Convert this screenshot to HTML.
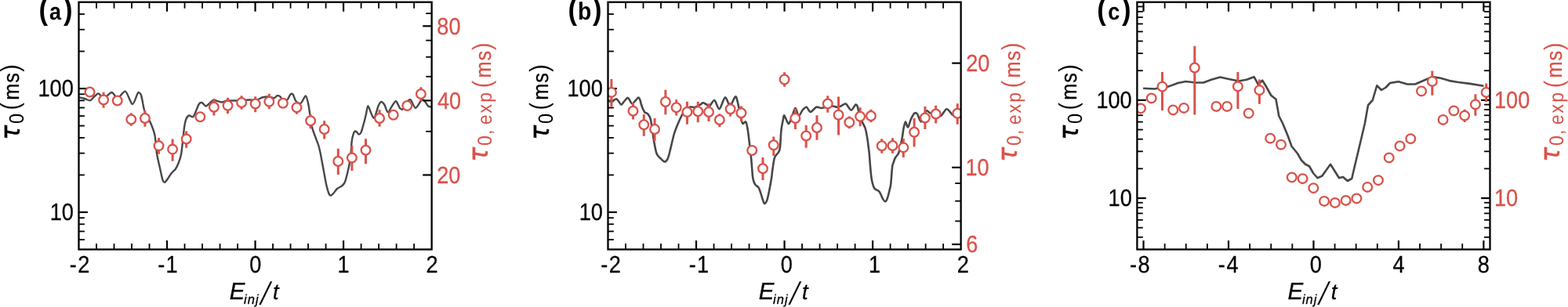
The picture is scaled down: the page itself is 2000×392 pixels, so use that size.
<!DOCTYPE html>
<html lang="en"><head><meta charset="utf-8"><title>Figure</title>
<style>html,body{margin:0;padding:0;background:#fff}body{width:2000px;height:392px;overflow:hidden}svg{display:block;font-family:'Liberation Sans', sans-serif;text-rendering:geometricPrecision}text{fill:currentColor}.t{stroke:currentColor;stroke-width:0.3px;stroke-linejoin:round}.w{stroke:#fff;stroke-width:0.2px}.u{stroke:currentColor;stroke-width:0.45px}</style>
</head><body>
<svg width="2000" height="392" viewBox="0 0 2000 392">
<g id="panel-a">
<clipPath id="clip-a"><rect x="100.5" y="2.7" width="450.15" height="315.8"/></clipPath>
<g stroke="#000">
<line x1="123.01" y1="318.5" x2="123.01" y2="311.1" stroke-width="1.8"/>
<line x1="123.01" y1="2.7" x2="123.01" y2="10.7" stroke-width="1.8"/>
<line x1="145.51" y1="318.5" x2="145.51" y2="311.1" stroke-width="1.8"/>
<line x1="145.51" y1="2.7" x2="145.51" y2="10.7" stroke-width="1.8"/>
<line x1="168.02" y1="318.5" x2="168.02" y2="311.1" stroke-width="1.8"/>
<line x1="168.02" y1="2.7" x2="168.02" y2="10.7" stroke-width="1.8"/>
<line x1="190.53" y1="318.5" x2="190.53" y2="311.1" stroke-width="1.8"/>
<line x1="190.53" y1="2.7" x2="190.53" y2="10.7" stroke-width="1.8"/>
<line x1="213.04" y1="318.5" x2="213.04" y2="307.1" stroke-width="2.2"/>
<line x1="213.04" y1="2.7" x2="213.04" y2="14.7" stroke-width="2.2"/>
<line x1="235.54" y1="318.5" x2="235.54" y2="311.1" stroke-width="1.8"/>
<line x1="235.54" y1="2.7" x2="235.54" y2="10.7" stroke-width="1.8"/>
<line x1="258.05" y1="318.5" x2="258.05" y2="311.1" stroke-width="1.8"/>
<line x1="258.05" y1="2.7" x2="258.05" y2="10.7" stroke-width="1.8"/>
<line x1="280.56" y1="318.5" x2="280.56" y2="311.1" stroke-width="1.8"/>
<line x1="280.56" y1="2.7" x2="280.56" y2="10.7" stroke-width="1.8"/>
<line x1="303.07" y1="318.5" x2="303.07" y2="311.1" stroke-width="1.8"/>
<line x1="303.07" y1="2.7" x2="303.07" y2="10.7" stroke-width="1.8"/>
<line x1="325.57" y1="318.5" x2="325.57" y2="307.1" stroke-width="2.2"/>
<line x1="325.57" y1="2.7" x2="325.57" y2="14.7" stroke-width="2.2"/>
<line x1="348.08" y1="318.5" x2="348.08" y2="311.1" stroke-width="1.8"/>
<line x1="348.08" y1="2.7" x2="348.08" y2="10.7" stroke-width="1.8"/>
<line x1="370.59" y1="318.5" x2="370.59" y2="311.1" stroke-width="1.8"/>
<line x1="370.59" y1="2.7" x2="370.59" y2="10.7" stroke-width="1.8"/>
<line x1="393.1" y1="318.5" x2="393.1" y2="311.1" stroke-width="1.8"/>
<line x1="393.1" y1="2.7" x2="393.1" y2="10.7" stroke-width="1.8"/>
<line x1="415.6" y1="318.5" x2="415.6" y2="311.1" stroke-width="1.8"/>
<line x1="415.6" y1="2.7" x2="415.6" y2="10.7" stroke-width="1.8"/>
<line x1="438.11" y1="318.5" x2="438.11" y2="307.1" stroke-width="2.2"/>
<line x1="438.11" y1="2.7" x2="438.11" y2="14.7" stroke-width="2.2"/>
<line x1="460.62" y1="318.5" x2="460.62" y2="311.1" stroke-width="1.8"/>
<line x1="460.62" y1="2.7" x2="460.62" y2="10.7" stroke-width="1.8"/>
<line x1="483.13" y1="318.5" x2="483.13" y2="311.1" stroke-width="1.8"/>
<line x1="483.13" y1="2.7" x2="483.13" y2="10.7" stroke-width="1.8"/>
<line x1="505.63" y1="318.5" x2="505.63" y2="311.1" stroke-width="1.8"/>
<line x1="505.63" y1="2.7" x2="505.63" y2="10.7" stroke-width="1.8"/>
<line x1="528.14" y1="318.5" x2="528.14" y2="311.1" stroke-width="1.8"/>
<line x1="528.14" y1="2.7" x2="528.14" y2="10.7" stroke-width="1.8"/>
<line x1="100.5" y1="306" x2="107.9" y2="306" stroke-width="1.8"/>
<line x1="100.5" y1="295.43" x2="107.9" y2="295.43" stroke-width="1.8"/>
<line x1="100.5" y1="286.27" x2="107.9" y2="286.27" stroke-width="1.8"/>
<line x1="100.5" y1="278.19" x2="107.9" y2="278.19" stroke-width="1.8"/>
<line x1="100.5" y1="270.97" x2="111.9" y2="270.97" stroke-width="2.2"/>
<line x1="100.5" y1="223.43" x2="107.9" y2="223.43" stroke-width="1.8"/>
<line x1="100.5" y1="195.63" x2="107.9" y2="195.63" stroke-width="1.8"/>
<line x1="100.5" y1="175.9" x2="107.9" y2="175.9" stroke-width="1.8"/>
<line x1="100.5" y1="160.6" x2="107.9" y2="160.6" stroke-width="1.8"/>
<line x1="100.5" y1="148.1" x2="107.9" y2="148.1" stroke-width="1.8"/>
<line x1="100.5" y1="137.53" x2="107.9" y2="137.53" stroke-width="1.8"/>
<line x1="100.5" y1="128.37" x2="107.9" y2="128.37" stroke-width="1.8"/>
<line x1="100.5" y1="120.29" x2="107.9" y2="120.29" stroke-width="1.8"/>
<line x1="100.5" y1="113.07" x2="111.9" y2="113.07" stroke-width="2.2"/>
<line x1="100.5" y1="65.53" x2="107.9" y2="65.53" stroke-width="1.8"/>
<line x1="100.5" y1="37.73" x2="107.9" y2="37.73" stroke-width="1.8"/>
<line x1="100.5" y1="18" x2="107.9" y2="18" stroke-width="1.8"/>
</g>
<g clip-path="url(#clip-a)">
<path d="M101,124.3C101.98,124.54 106.04,125.44 108,126C109.96,126.56 113.32,128.65 115,128.3C116.68,127.95 118.67,124.7 120,123.5C121.33,122.3 123.59,120.2 124.5,119.7C125.41,119.2 125.38,119.09 126.5,119.9C127.62,120.71 130.26,125.77 132.5,125.5C134.74,125.23 140.05,118 142.5,118C144.95,118 147.55,125.67 150,125.5C152.45,125.33 157.38,115.7 160,116.75C162.62,117.8 166.65,132.47 168.75,133C170.85,133.53 173.91,122.61 175,120.5C176.09,118.39 176.01,118.11 176.5,117.9C176.99,117.69 178.01,118.5 178.5,119C178.99,119.5 179.58,120.24 180,121.5C180.42,122.76 181.08,125.97 181.5,128C181.92,130.03 182.51,133.83 183,136C183.49,138.17 183.67,140.42 185,143.5C186.33,146.58 190.75,153.87 192.5,158C194.25,162.13 196.45,167.68 197.5,173C198.55,178.32 199.12,190.33 200,196C200.88,201.67 202.7,208.78 203.75,213.5C204.8,218.22 206.62,227.06 207.5,229.75C208.38,232.44 209.12,232.93 210,232.75C210.88,232.57 212.53,230.15 213.75,228.5C214.97,226.85 217.35,222.75 218.75,221C220.15,219.25 222.53,217.75 223.75,216C224.97,214.25 226.45,211.3 227.5,208.5C228.55,205.7 230.2,202.37 231.25,196C232.3,189.63 234.12,169.19 235,163C235.88,156.81 236.62,153.92 237.5,151.75C238.38,149.58 240.03,147.85 241.25,147.5C242.47,147.15 245.03,150.06 246.25,149.25C247.47,148.44 248.95,144.03 250,141.75C251.05,139.47 252.7,134.5 253.75,133C254.8,131.5 256.27,130.65 257.5,131C258.73,131.35 261.1,135.4 262.5,135.5C263.9,135.6 266.1,132.8 267.5,131.75C268.9,130.7 270.4,128.18 272.5,128C274.6,127.83 280.05,130.43 282.5,130.5C284.95,130.57 287.55,128.78 290,128.5C292.45,128.22 296.15,128.64 300,128.5C303.85,128.36 313.65,127.64 317.5,127.5C321.35,127.36 325.05,127.95 327.5,127.5C329.95,127.05 332.83,124.81 335,124.25C337.17,123.69 340.96,123.37 343,123.5C345.04,123.63 348.12,125.38 349.6,125.2C351.08,125.02 352.48,122.45 353.6,122.2C354.72,121.95 356.77,122.83 357.6,123.4C358.43,123.97 358.27,125.75 359.5,126.3C360.73,126.85 364.87,128.11 366.4,127.3C367.93,126.49 369.39,121.45 370.4,120.5C371.41,119.55 372.61,119.28 373.6,120.5C374.59,121.72 376.08,127.67 377.5,129.25C378.92,130.82 382,132.69 383.75,131.75C385.5,130.81 388.6,121.97 390,122.5C391.4,123.03 392.7,130.18 393.75,135.5C394.8,140.82 396.27,154.9 397.5,160.5C398.73,166.1 401.27,172 402.5,175.5C403.73,179 405.38,182.63 406.25,185.5C407.12,188.37 407.88,191.73 408.75,196C409.62,200.27 411.45,210.4 412.5,216C413.55,221.6 415.27,231.62 416.25,236C417.23,240.38 418.73,245.32 419.5,247.25C420.27,249.18 420.98,249.75 421.75,249.75C422.52,249.75 423.85,248.47 425,247.25C426.15,246.03 428.43,242.4 430,241C431.57,239.6 434.85,238.47 436.25,237.25C437.65,236.03 438.95,234.88 440,232.25C441.05,229.62 442.88,222.18 443.75,218.5C444.62,214.82 445.73,209.15 446.25,206C446.77,202.85 447.15,199.64 447.5,196C447.85,192.36 448.32,183.43 448.75,180C449.18,176.57 450.08,173.22 450.6,171.5C451.12,169.78 451.88,168.12 452.5,167.7C453.12,167.28 454.26,167.95 455,168.5C455.74,169.05 456.97,171.53 457.75,171.6C458.53,171.67 459.94,170.24 460.6,169C461.27,167.76 461.88,164.85 462.5,162.75C463.12,160.65 464.38,156.34 465,154C465.62,151.66 466.28,148.62 466.9,146C467.52,143.38 468.44,135.32 469.4,135.25C470.36,135.18 472.62,143.37 473.75,145.5C474.88,147.63 476.27,151.9 477.5,150.5C478.73,149.1 481.27,138.37 482.5,135.5C483.73,132.63 485.13,130.21 486.25,130C487.37,129.79 489.32,132.14 490.5,134C491.68,135.86 493.37,143.09 494.7,143.3C496.03,143.51 498.56,137.47 500,135.5C501.44,133.53 503.6,128.9 505,129.25C506.4,129.6 508.77,136.6 510,138C511.23,139.4 512.52,140.3 513.75,139.25C514.98,138.2 517.35,132.15 518.75,130.5C520.15,128.85 522.17,126.45 523.75,127.5C525.33,128.55 528.08,137.93 530,138C531.92,138.07 535.92,129.33 537.5,128C539.08,126.67 540.02,127.45 541.25,128.5C542.48,129.55 544.85,134.34 546.25,135.5C547.65,136.66 550.55,136.57 551.25,136.75" fill="none" stroke="#474747" stroke-width="2.4" stroke-linejoin="round"/>
<g stroke="#d9524b" stroke-width="3.0">
<line x1="132.1" y1="117.8" x2="132.1" y2="137.7"/>
<line x1="167.3" y1="144.3" x2="167.3" y2="160.7"/>
<line x1="184.9" y1="141.05" x2="184.9" y2="161.7"/>
<line x1="202.5" y1="175.9" x2="202.5" y2="196.7"/>
<line x1="220.1" y1="177.5" x2="220.1" y2="205.8"/>
<line x1="237.7" y1="167.5" x2="237.7" y2="188.8"/>
<line x1="272.9" y1="126.05" x2="272.9" y2="147.45"/>
<line x1="290.5" y1="124.8" x2="290.5" y2="144.95"/>
<line x1="308.1" y1="122.3" x2="308.1" y2="139.7"/>
<line x1="325.7" y1="123.3" x2="325.7" y2="143.2"/>
<line x1="343.3" y1="119.8" x2="343.3" y2="139.2"/>
<line x1="378.5" y1="129.9" x2="378.5" y2="145.7"/>
<line x1="396.1" y1="146.05" x2="396.1" y2="164.2"/>
<line x1="413.7" y1="154.3" x2="413.7" y2="177.45"/>
<line x1="431.3" y1="189.8" x2="431.3" y2="222.95"/>
<line x1="448.9" y1="186.05" x2="448.9" y2="217.95"/>
<line x1="466.5" y1="177.3" x2="466.5" y2="209.2"/>
<line x1="484.1" y1="140.3" x2="484.1" y2="161.7"/>
<line x1="536.9" y1="111.2" x2="536.9" y2="128.8"/>
</g>
<g fill="#fff" stroke="#d9524b" stroke-width="2.3">
<circle cx="114.5" cy="117.5" r="5.85"/>
<circle cx="132.1" cy="127.5" r="5.85"/>
<circle cx="149.7" cy="128.5" r="5.85"/>
<circle cx="167.3" cy="152.5" r="5.85"/>
<circle cx="184.9" cy="151" r="5.85"/>
<circle cx="202.5" cy="186.1" r="5.85"/>
<circle cx="220.1" cy="190.6" r="5.85"/>
<circle cx="237.7" cy="177.5" r="5.85"/>
<circle cx="255.3" cy="149.25" r="5.85"/>
<circle cx="272.9" cy="136.75" r="5.85"/>
<circle cx="290.5" cy="134.75" r="5.85"/>
<circle cx="308.1" cy="131" r="5.85"/>
<circle cx="325.7" cy="132.5" r="5.85"/>
<circle cx="343.3" cy="129.75" r="5.85"/>
<circle cx="360.9" cy="131.75" r="5.85"/>
<circle cx="378.5" cy="137.25" r="5.85"/>
<circle cx="396.1" cy="154.25" r="5.85"/>
<circle cx="413.7" cy="165" r="5.85"/>
<circle cx="431.3" cy="206" r="5.85"/>
<circle cx="448.9" cy="201.5" r="5.85"/>
<circle cx="466.5" cy="191.75" r="5.85"/>
<circle cx="484.1" cy="151" r="5.85"/>
<circle cx="501.7" cy="146.8" r="5.85"/>
<circle cx="519.3" cy="135" r="5.85"/>
<circle cx="536.9" cy="120" r="5.85"/>
</g>
</g>
<g stroke="#000">
<line x1="550.65" y1="223.43" x2="539.25" y2="223.43" stroke-width="2.2"/>
<line x1="550.65" y1="128.37" x2="539.25" y2="128.37" stroke-width="2.2"/>
<line x1="550.65" y1="33.3" x2="539.25" y2="33.3" stroke-width="2.2"/>
<line x1="550.65" y1="167.83" x2="543.25" y2="167.83" stroke-width="1.8"/>
<line x1="550.65" y1="97.77" x2="543.25" y2="97.77" stroke-width="1.8"/>
<line x1="550.65" y1="72.76" x2="543.25" y2="72.76" stroke-width="1.8"/>
<line x1="550.65" y1="51.62" x2="543.25" y2="51.62" stroke-width="1.8"/>
<line x1="550.65" y1="17.15" x2="543.25" y2="17.15" stroke-width="1.8"/>
</g>
<rect x="100.5" y="2.7" width="450.15" height="315.8" fill="none" stroke="#000" stroke-width="2.3"/>
<text transform="scale(0.890,1)"><tspan x="99.82 111.65" y="347.95" font-size="30.5" class="t">-2</tspan></text>
<text transform="scale(0.890,1)"><tspan x="226.26 237.68" y="347.95" font-size="30.5" class="t">-1</tspan></text>
<text transform="translate(318.31,347.95) scale(0.890,1)" font-size="30.5" class="t">0</text>
<text transform="translate(430.51,347.95) scale(0.890,1)" font-size="30.5" class="t">1</text>
<text transform="translate(543.42,347.95) scale(0.890,1)" font-size="30.5" class="t">2</text>
<text transform="translate(63.64,281.07) scale(0.890,1)" font-size="30.5" class="t">10</text>
<text transform="translate(48.5,123.17) scale(0.890,1)" font-size="30.5" class="t">100</text>
<text transform="translate(557.14,233.78) scale(0.895,1)" font-size="30.3" class="t" color="#d9524b">20</text>
<text transform="translate(557.89,138.72) scale(0.895,1)" font-size="30.3" class="t" color="#d9524b">40</text>
<text transform="translate(557.35,43.65) scale(0.895,1)" font-size="30.3" class="t" color="#d9524b">80</text>
<text transform="scale(0.970,1)"><tspan x="301.76" y="381.7" font-size="30.4" class="t" font-style="italic">E</tspan><tspan x="320.71 325.52 335.99" y="387.5" font-size="17" class="t" font-style="italic">inj</tspan><tspan x="342.79" y="386.19" font-size="37.1" font-family="'DejaVu Sans', sans-serif" font-style="italic" stroke="#fff" stroke-width="0.55">/</tspan><tspan x="358.67" y="381.9" font-size="28.2" class="t" font-style="italic">t</tspan></text>
<text transform="scale(0.900,1)"><tspan x="54.94" y="24.9" font-size="38.6" font-weight="bold">(</tspan><tspan x="69.89" y="25" font-size="30" font-weight="bold">a</tspan><tspan x="90.11" y="24.9" font-size="38.6" font-weight="bold">)</tspan></text>
<text transform="rotate(-90) scale(0.900,1)"><tspan x="-198.49" y="24.7" font-size="34.92" class="u" font-family="'DejaVu Sans', sans-serif" font-style="italic">τ</tspan><tspan x="-175.68" y="30.4" font-size="26.27">0</tspan><tspan x="-156.38" y="23.7" font-size="33.5" class="w">(</tspan><tspan x="-141.82 -117.42" y="23.5" font-size="28.1" class="t">ms</tspan><tspan x="-102.31" y="23.7" font-size="33.5" class="w">)</tspan></text>
<text transform="rotate(-90) scale(0.900,1)" color="#d9524b"><tspan x="-229.82" y="621.8" font-size="34.92" class="u" font-family="'DejaVu Sans', sans-serif" font-style="italic">τ</tspan><tspan x="-206.66 -191.08 -176.29 -176.99 -160.51 -145.15" y="627.1" font-size="25.6">0, exp</tspan><tspan x="-125.1" y="626.1" font-size="33.5" class="w">(</tspan><tspan x="-110.7 -86.09" y="625.5" font-size="28.1" class="t">ms</tspan><tspan x="-71.26" y="626.1" font-size="33.5" class="w">)</tspan></text>
</g>
<g id="panel-b">
<clipPath id="clip-b"><rect x="775.5" y="2.7" width="450.15" height="315.8"/></clipPath>
<g stroke="#000">
<line x1="798.01" y1="318.5" x2="798.01" y2="311.1" stroke-width="1.8"/>
<line x1="798.01" y1="2.7" x2="798.01" y2="10.7" stroke-width="1.8"/>
<line x1="820.51" y1="318.5" x2="820.51" y2="311.1" stroke-width="1.8"/>
<line x1="820.51" y1="2.7" x2="820.51" y2="10.7" stroke-width="1.8"/>
<line x1="843.02" y1="318.5" x2="843.02" y2="311.1" stroke-width="1.8"/>
<line x1="843.02" y1="2.7" x2="843.02" y2="10.7" stroke-width="1.8"/>
<line x1="865.53" y1="318.5" x2="865.53" y2="311.1" stroke-width="1.8"/>
<line x1="865.53" y1="2.7" x2="865.53" y2="10.7" stroke-width="1.8"/>
<line x1="888.04" y1="318.5" x2="888.04" y2="307.1" stroke-width="2.2"/>
<line x1="888.04" y1="2.7" x2="888.04" y2="14.7" stroke-width="2.2"/>
<line x1="910.55" y1="318.5" x2="910.55" y2="311.1" stroke-width="1.8"/>
<line x1="910.55" y1="2.7" x2="910.55" y2="10.7" stroke-width="1.8"/>
<line x1="933.05" y1="318.5" x2="933.05" y2="311.1" stroke-width="1.8"/>
<line x1="933.05" y1="2.7" x2="933.05" y2="10.7" stroke-width="1.8"/>
<line x1="955.56" y1="318.5" x2="955.56" y2="311.1" stroke-width="1.8"/>
<line x1="955.56" y1="2.7" x2="955.56" y2="10.7" stroke-width="1.8"/>
<line x1="978.07" y1="318.5" x2="978.07" y2="311.1" stroke-width="1.8"/>
<line x1="978.07" y1="2.7" x2="978.07" y2="10.7" stroke-width="1.8"/>
<line x1="1000.58" y1="318.5" x2="1000.58" y2="307.1" stroke-width="2.2"/>
<line x1="1000.58" y1="2.7" x2="1000.58" y2="14.7" stroke-width="2.2"/>
<line x1="1023.08" y1="318.5" x2="1023.08" y2="311.1" stroke-width="1.8"/>
<line x1="1023.08" y1="2.7" x2="1023.08" y2="10.7" stroke-width="1.8"/>
<line x1="1045.59" y1="318.5" x2="1045.59" y2="311.1" stroke-width="1.8"/>
<line x1="1045.59" y1="2.7" x2="1045.59" y2="10.7" stroke-width="1.8"/>
<line x1="1068.1" y1="318.5" x2="1068.1" y2="311.1" stroke-width="1.8"/>
<line x1="1068.1" y1="2.7" x2="1068.1" y2="10.7" stroke-width="1.8"/>
<line x1="1090.61" y1="318.5" x2="1090.61" y2="311.1" stroke-width="1.8"/>
<line x1="1090.61" y1="2.7" x2="1090.61" y2="10.7" stroke-width="1.8"/>
<line x1="1113.11" y1="318.5" x2="1113.11" y2="307.1" stroke-width="2.2"/>
<line x1="1113.11" y1="2.7" x2="1113.11" y2="14.7" stroke-width="2.2"/>
<line x1="1135.62" y1="318.5" x2="1135.62" y2="311.1" stroke-width="1.8"/>
<line x1="1135.62" y1="2.7" x2="1135.62" y2="10.7" stroke-width="1.8"/>
<line x1="1158.13" y1="318.5" x2="1158.13" y2="311.1" stroke-width="1.8"/>
<line x1="1158.13" y1="2.7" x2="1158.13" y2="10.7" stroke-width="1.8"/>
<line x1="1180.64" y1="318.5" x2="1180.64" y2="311.1" stroke-width="1.8"/>
<line x1="1180.64" y1="2.7" x2="1180.64" y2="10.7" stroke-width="1.8"/>
<line x1="1203.14" y1="318.5" x2="1203.14" y2="311.1" stroke-width="1.8"/>
<line x1="1203.14" y1="2.7" x2="1203.14" y2="10.7" stroke-width="1.8"/>
<line x1="775.5" y1="306" x2="782.9" y2="306" stroke-width="1.8"/>
<line x1="775.5" y1="295.43" x2="782.9" y2="295.43" stroke-width="1.8"/>
<line x1="775.5" y1="286.27" x2="782.9" y2="286.27" stroke-width="1.8"/>
<line x1="775.5" y1="278.19" x2="782.9" y2="278.19" stroke-width="1.8"/>
<line x1="775.5" y1="270.97" x2="786.9" y2="270.97" stroke-width="2.2"/>
<line x1="775.5" y1="223.43" x2="782.9" y2="223.43" stroke-width="1.8"/>
<line x1="775.5" y1="195.63" x2="782.9" y2="195.63" stroke-width="1.8"/>
<line x1="775.5" y1="175.9" x2="782.9" y2="175.9" stroke-width="1.8"/>
<line x1="775.5" y1="160.6" x2="782.9" y2="160.6" stroke-width="1.8"/>
<line x1="775.5" y1="148.1" x2="782.9" y2="148.1" stroke-width="1.8"/>
<line x1="775.5" y1="137.53" x2="782.9" y2="137.53" stroke-width="1.8"/>
<line x1="775.5" y1="128.37" x2="782.9" y2="128.37" stroke-width="1.8"/>
<line x1="775.5" y1="120.29" x2="782.9" y2="120.29" stroke-width="1.8"/>
<line x1="775.5" y1="113.07" x2="786.9" y2="113.07" stroke-width="2.2"/>
<line x1="775.5" y1="65.53" x2="782.9" y2="65.53" stroke-width="1.8"/>
<line x1="775.5" y1="37.73" x2="782.9" y2="37.73" stroke-width="1.8"/>
<line x1="775.5" y1="18" x2="782.9" y2="18" stroke-width="1.8"/>
</g>
<g clip-path="url(#clip-b)">
<path d="M776.25,128.5C776.77,128.78 779.05,130.57 780,130.5C780.95,130.43 782.12,128.59 783,128C783.88,127.41 785.34,125.97 786.25,126.25C787.16,126.53 788.62,128.95 789.5,130C790.38,131.05 791.52,133.89 792.5,133.75C793.48,133.61 795.37,130.26 796.5,129C797.63,127.74 799.62,124.82 800.6,124.75C801.58,124.68 802.71,127.42 803.5,128.5C804.29,129.59 805.27,132.5 806.25,132.5C807.23,132.5 809.49,129.55 810.5,128.5C811.51,127.45 812.87,125.5 813.5,125C814.13,124.5 814.58,124.48 815,124.9C815.42,125.32 816.08,126.8 816.5,128C816.92,129.2 817.51,131.96 818,133.5C818.49,135.04 819.37,137.6 820,139C820.63,140.4 821.62,142.59 822.5,143.5C823.38,144.41 825.2,144.17 826.25,145.5C827.3,146.83 828.95,148.45 830,153C831.05,157.55 832.7,171.98 833.75,178C834.8,184.02 836.27,192.6 837.5,196C838.73,199.4 841.1,200.78 842.5,202.25C843.9,203.72 846.27,206.32 847.5,206.5C848.73,206.68 850.38,204.97 851.25,203.5C852.12,202.03 852.52,200.62 853.75,196C854.98,191.38 858.25,176.31 860,170.5C861.75,164.69 864.5,158.42 866.25,154.5C868,150.58 870.58,145.01 872.5,142.5C874.42,139.99 878.08,137.37 880,136.6C881.92,135.83 884.36,137.43 886.25,137C888.14,136.57 892.07,134.3 893.5,133.5C894.93,132.7 895.52,131.37 896.5,131.3C897.48,131.23 899.31,132.41 900.5,133C901.69,133.59 903.5,136.2 905,135.5C906.5,134.8 909.5,127.47 911.25,128C913,128.53 915.58,139.78 917.5,139.25C919.42,138.72 923.08,124.78 925,124.25C926.92,123.72 929.33,135.6 931.25,135.5C933.17,135.4 936.83,121.4 938.75,123.5C940.67,125.6 943.77,145.67 945,150.5C946.23,155.33 946.62,157.3 947.5,158C948.38,158.7 950.38,154.45 951.25,155.5C952.12,156.55 953.05,161.3 953.75,165.5C954.45,169.7 955.73,181.23 956.25,185.5C956.77,189.77 957.14,192.57 957.5,196C957.86,199.43 958.45,205.94 958.8,210C959.15,214.06 959.66,222.03 960,225C960.34,227.97 960.73,229.68 961.25,231.25C961.77,232.82 962.88,235.11 963.75,236.25C964.62,237.39 966.62,238.09 967.5,239.4C968.38,240.71 969.3,243.59 970,245.6C970.7,247.61 971.8,251.73 972.5,253.75C973.2,255.77 974.22,259.65 975,260C975.78,260.35 977.32,258.18 978.1,256.25C978.88,254.32 979.98,249.05 980.6,246.25C981.22,243.45 981.97,239.22 982.5,236.25C983.03,233.28 984.05,227.38 984.4,225C984.75,222.62 984.57,222.33 985,219.25C985.43,216.17 986.8,205.97 987.5,203C988.2,200.03 989.22,199.22 990,198C990.78,196.78 992.4,195.65 993.1,194.25C993.8,192.85 994.52,191.96 995,188C995.48,184.04 995.94,171.04 996.5,166C997.06,160.96 998.48,154.63 999,152C999.52,149.37 999.64,147.06 1000.2,147.2C1000.76,147.34 1002.19,151.49 1003,153C1003.81,154.51 1005.09,158.28 1006,158C1006.91,157.72 1008.32,153.79 1009.5,151C1010.68,148.21 1013.11,138.52 1014.4,138.1C1015.69,137.68 1017.44,147.66 1018.75,148C1020.06,148.34 1022.35,142.07 1023.75,140.5C1025.15,138.93 1027.35,136.4 1028.75,136.75C1030.15,137.1 1032,143 1033.75,143C1035.5,143 1039.33,137.45 1041.25,136.75C1043.17,136.05 1045.75,138 1047.5,138C1049.25,138 1051.65,137.1 1053.75,136.75C1055.85,136.4 1060.58,135.5 1062.5,135.5C1064.42,135.5 1066.1,136.75 1067.5,136.75C1068.9,136.75 1070.92,136.09 1072.5,135.5C1074.08,134.91 1076.92,131.79 1078.75,132.5C1080.58,133.21 1083.85,140.42 1085.6,140.6C1087.35,140.78 1090.11,134.39 1091.25,133.75C1092.39,133.11 1093.14,134.56 1093.75,136C1094.36,137.44 1094.72,141.16 1095.6,144C1096.47,146.84 1098.86,153.45 1100,156.25C1101.14,159.05 1102.84,160.96 1103.75,164C1104.66,167.04 1105.93,174.64 1106.5,178C1107.07,181.36 1107.48,185.48 1107.8,188C1108.12,190.52 1108.44,192.64 1108.75,196C1109.06,199.36 1109.65,207.94 1110,212C1110.35,216.06 1110.9,222.13 1111.25,225C1111.6,227.87 1111.97,230.4 1112.5,232.5C1113.03,234.6 1114.22,238.6 1115,240C1115.78,241.4 1117.22,241.88 1118.1,242.5C1118.97,243.12 1120.46,243.53 1121.25,244.4C1122.04,245.28 1123.05,247.35 1123.75,248.75C1124.45,250.15 1125.46,253.21 1126.25,254.4C1127.04,255.59 1128.61,257.43 1129.4,257.25C1130.19,257.07 1131.2,254.99 1131.9,253.1C1132.6,251.21 1133.79,246.28 1134.4,243.75C1135.01,241.22 1135.73,239.31 1136.25,235C1136.77,230.69 1137.57,216.99 1138.1,213C1138.62,209.01 1139.47,208.11 1140,206.5C1140.53,204.89 1141.03,203.07 1141.9,201.5C1142.78,199.93 1145.2,197.88 1146.25,195.25C1147.3,192.62 1148.7,185.9 1149.4,182.75C1150.1,179.6 1150.82,175.38 1151.25,172.75C1151.68,170.12 1151.97,166.4 1152.5,164C1153.03,161.6 1154.22,155.81 1155,155.6C1155.78,155.39 1157.12,163 1158.1,162.5C1159.08,162 1160.86,154.49 1162,152C1163.14,149.51 1165.13,145.66 1166.25,144.75C1167.37,143.84 1168.78,144 1170,145.5C1171.22,147 1173.42,156.03 1175,155.5C1176.58,154.97 1179.67,143.32 1181.25,141.75C1182.83,140.18 1184.67,143.72 1186.25,144.25C1187.83,144.78 1190.58,144.97 1192.5,145.5C1194.42,146.03 1197.9,148.88 1200,148C1202.1,147.12 1205.4,139.43 1207.5,139.25C1209.6,139.07 1213.25,145.53 1215,146.75C1216.75,147.97 1218.42,148.18 1220,148C1221.58,147.82 1225.38,145.85 1226.25,145.5" fill="none" stroke="#474747" stroke-width="2.6" stroke-linejoin="round"/>
<g stroke="#d9524b" stroke-width="3.0">
<line x1="779.9" y1="101.05" x2="779.9" y2="136.2"/>
<line x1="807.49" y1="131.05" x2="807.49" y2="152.45"/>
<line x1="821.28" y1="146.05" x2="821.28" y2="173.7"/>
<line x1="835.07" y1="151.05" x2="835.07" y2="179.95"/>
<line x1="848.87" y1="114.8" x2="848.87" y2="146.2"/>
<line x1="862.66" y1="127.3" x2="862.66" y2="147.45"/>
<line x1="876.45" y1="129.8" x2="876.45" y2="158.7"/>
<line x1="890.24" y1="129.8" x2="890.24" y2="156.2"/>
<line x1="904.04" y1="132.3" x2="904.04" y2="154.95"/>
<line x1="917.83" y1="145.3" x2="917.83" y2="162.2"/>
<line x1="931.62" y1="131.05" x2="931.62" y2="148.7"/>
<line x1="945.42" y1="135.5" x2="945.42" y2="154.95"/>
<line x1="973" y1="201.1" x2="973" y2="229.9"/>
<line x1="986.79" y1="174.6" x2="986.79" y2="199"/>
<line x1="1000.59" y1="92.2" x2="1000.59" y2="110.7"/>
<line x1="1014.38" y1="138.55" x2="1014.38" y2="164.95"/>
<line x1="1028.17" y1="159.8" x2="1028.17" y2="188.7"/>
<line x1="1041.97" y1="147.3" x2="1041.97" y2="178.7"/>
<line x1="1055.76" y1="122.3" x2="1055.76" y2="143.7"/>
<line x1="1069.55" y1="123.55" x2="1069.55" y2="172.45"/>
<line x1="1083.35" y1="148.55" x2="1083.35" y2="164.2"/>
<line x1="1097.14" y1="137.3" x2="1097.14" y2="161.2"/>
<line x1="1110.93" y1="139.8" x2="1110.93" y2="156.2"/>
<line x1="1124.72" y1="177.3" x2="1124.72" y2="195.7"/>
<line x1="1138.52" y1="176.3" x2="1138.52" y2="195.7"/>
<line x1="1152.31" y1="177.1" x2="1152.31" y2="200.9"/>
<line x1="1166.1" y1="151.05" x2="1166.1" y2="187.45"/>
<line x1="1179.9" y1="136.05" x2="1179.9" y2="164.95"/>
<line x1="1193.69" y1="134.8" x2="1193.69" y2="157.45"/>
<line x1="1221.28" y1="132.3" x2="1221.28" y2="158.7"/>
</g>
<g fill="#fff" stroke="#d9524b" stroke-width="2.3">
<circle cx="779.9" cy="117.9" r="5.85"/>
<circle cx="807.49" cy="141.75" r="5.85"/>
<circle cx="821.28" cy="159.25" r="5.85"/>
<circle cx="835.07" cy="165" r="5.85"/>
<circle cx="848.87" cy="130" r="5.85"/>
<circle cx="862.66" cy="137.25" r="5.85"/>
<circle cx="876.45" cy="143" r="5.85"/>
<circle cx="890.24" cy="142.25" r="5.85"/>
<circle cx="904.04" cy="143" r="5.85"/>
<circle cx="917.83" cy="153" r="5.85"/>
<circle cx="931.62" cy="139.25" r="5.85"/>
<circle cx="945.42" cy="144.25" r="5.85"/>
<circle cx="959.21" cy="192" r="5.85"/>
<circle cx="973" cy="215.2" r="5.85"/>
<circle cx="986.79" cy="185.2" r="5.85"/>
<circle cx="1000.59" cy="101.5" r="5.85"/>
<circle cx="1014.38" cy="151" r="5.85"/>
<circle cx="1028.17" cy="173.5" r="5.85"/>
<circle cx="1041.97" cy="163" r="5.85"/>
<circle cx="1055.76" cy="132.5" r="5.85"/>
<circle cx="1069.55" cy="146.75" r="5.85"/>
<circle cx="1083.35" cy="156.25" r="5.85"/>
<circle cx="1097.14" cy="148.75" r="5.85"/>
<circle cx="1110.93" cy="148" r="5.85"/>
<circle cx="1124.72" cy="186.25" r="5.85"/>
<circle cx="1138.52" cy="186" r="5.85"/>
<circle cx="1152.31" cy="188.4" r="5.85"/>
<circle cx="1166.1" cy="168.75" r="5.85"/>
<circle cx="1179.9" cy="150.5" r="5.85"/>
<circle cx="1193.69" cy="145.5" r="5.85"/>
<circle cx="1221.28" cy="144.75" r="5.85"/>
</g>
</g>
<g stroke="#000">
<line x1="1225.65" y1="311.99" x2="1214.25" y2="311.99" stroke-width="2.2"/>
<line x1="1225.65" y1="213.82" x2="1214.25" y2="213.82" stroke-width="2.2"/>
<line x1="1225.65" y1="80.62" x2="1214.25" y2="80.62" stroke-width="2.2"/>
<line x1="1225.65" y1="282.36" x2="1218.25" y2="282.36" stroke-width="1.8"/>
<line x1="1225.65" y1="256.7" x2="1218.25" y2="256.7" stroke-width="1.8"/>
<line x1="1225.65" y1="234.07" x2="1218.25" y2="234.07" stroke-width="1.8"/>
</g>
<rect x="775.5" y="2.7" width="450.15" height="315.8" fill="none" stroke="#000" stroke-width="2.3"/>
<text transform="scale(0.890,1)"><tspan x="860.94 872.77" y="347.95" font-size="30.5" class="t">-2</tspan></text>
<text transform="scale(0.890,1)"><tspan x="987.39 998.8" y="347.95" font-size="30.5" class="t">-1</tspan></text>
<text transform="translate(995.71,347.95) scale(0.890,1)" font-size="30.5" class="t">0</text>
<text transform="translate(1107.91,347.95) scale(0.890,1)" font-size="30.5" class="t">1</text>
<text transform="translate(1220.82,347.95) scale(0.890,1)" font-size="30.5" class="t">2</text>
<text transform="translate(738.64,281.07) scale(0.890,1)" font-size="30.5" class="t">10</text>
<text transform="translate(723.5,123.17) scale(0.890,1)" font-size="30.5" class="t">100</text>
<text transform="translate(1232.14,322.34) scale(0.895,1)" font-size="30.3" class="t" color="#d9524b">6</text>
<text transform="translate(1231.47,224.17) scale(0.895,1)" font-size="30.3" class="t" color="#d9524b">10</text>
<text transform="translate(1232.14,90.97) scale(0.895,1)" font-size="30.3" class="t" color="#d9524b">20</text>
<text transform="scale(0.970,1)"><tspan x="997.63" y="381.7" font-size="30.4" class="t" font-style="italic">E</tspan><tspan x="1016.58 1021.39 1031.86" y="387.5" font-size="17" class="t" font-style="italic">inj</tspan><tspan x="1038.67" y="386.19" font-size="37.1" font-family="'DejaVu Sans', sans-serif" font-style="italic" stroke="#fff" stroke-width="0.55">/</tspan><tspan x="1054.55" y="381.9" font-size="28.2" class="t" font-style="italic">t</tspan></text>
<text transform="scale(0.900,1)"><tspan x="804.94" y="24.9" font-size="38.6" font-weight="bold">(</tspan><tspan x="818.78" y="25" font-size="31.5" font-weight="bold">b</tspan><tspan x="840.11" y="24.9" font-size="38.6" font-weight="bold">)</tspan></text>
<text transform="rotate(-90) scale(0.900,1)"><tspan x="-198.49" y="699.7" font-size="34.92" class="u" font-family="'DejaVu Sans', sans-serif" font-style="italic">τ</tspan><tspan x="-175.68" y="705.4" font-size="26.27">0</tspan><tspan x="-156.38" y="698.7" font-size="33.5" class="w">(</tspan><tspan x="-141.82 -117.42" y="698.5" font-size="28.1" class="t">ms</tspan><tspan x="-102.31" y="698.7" font-size="33.5" class="w">)</tspan></text>
<text transform="rotate(-90) scale(0.900,1)" color="#d9524b"><tspan x="-229.82" y="1296.8" font-size="34.92" class="u" font-family="'DejaVu Sans', sans-serif" font-style="italic">τ</tspan><tspan x="-206.66 -191.08 -176.29 -176.99 -160.51 -145.15" y="1302.1" font-size="25.6">0, exp</tspan><tspan x="-125.1" y="1301.1" font-size="33.5" class="w">(</tspan><tspan x="-110.7 -86.09" y="1300.5" font-size="28.1" class="t">ms</tspan><tspan x="-71.26" y="1301.1" font-size="33.5" class="w">)</tspan></text>
</g>
<g id="panel-c">
<clipPath id="clip-c"><rect x="1450.4" y="2.7" width="450.1" height="315.8"/></clipPath>
<g stroke="#000">
<line x1="1458.53" y1="318.5" x2="1458.53" y2="307.1" stroke-width="2.2"/>
<line x1="1458.53" y1="2.7" x2="1458.53" y2="14.7" stroke-width="2.2"/>
<line x1="1485.65" y1="318.5" x2="1485.65" y2="311.1" stroke-width="1.8"/>
<line x1="1485.65" y1="2.7" x2="1485.65" y2="10.7" stroke-width="1.8"/>
<line x1="1512.76" y1="318.5" x2="1512.76" y2="311.1" stroke-width="1.8"/>
<line x1="1512.76" y1="2.7" x2="1512.76" y2="10.7" stroke-width="1.8"/>
<line x1="1539.88" y1="318.5" x2="1539.88" y2="311.1" stroke-width="1.8"/>
<line x1="1539.88" y1="2.7" x2="1539.88" y2="10.7" stroke-width="1.8"/>
<line x1="1566.99" y1="318.5" x2="1566.99" y2="307.1" stroke-width="2.2"/>
<line x1="1566.99" y1="2.7" x2="1566.99" y2="14.7" stroke-width="2.2"/>
<line x1="1594.11" y1="318.5" x2="1594.11" y2="311.1" stroke-width="1.8"/>
<line x1="1594.11" y1="2.7" x2="1594.11" y2="10.7" stroke-width="1.8"/>
<line x1="1621.22" y1="318.5" x2="1621.22" y2="311.1" stroke-width="1.8"/>
<line x1="1621.22" y1="2.7" x2="1621.22" y2="10.7" stroke-width="1.8"/>
<line x1="1648.34" y1="318.5" x2="1648.34" y2="311.1" stroke-width="1.8"/>
<line x1="1648.34" y1="2.7" x2="1648.34" y2="10.7" stroke-width="1.8"/>
<line x1="1675.45" y1="318.5" x2="1675.45" y2="307.1" stroke-width="2.2"/>
<line x1="1675.45" y1="2.7" x2="1675.45" y2="14.7" stroke-width="2.2"/>
<line x1="1702.56" y1="318.5" x2="1702.56" y2="311.1" stroke-width="1.8"/>
<line x1="1702.56" y1="2.7" x2="1702.56" y2="10.7" stroke-width="1.8"/>
<line x1="1729.68" y1="318.5" x2="1729.68" y2="311.1" stroke-width="1.8"/>
<line x1="1729.68" y1="2.7" x2="1729.68" y2="10.7" stroke-width="1.8"/>
<line x1="1756.79" y1="318.5" x2="1756.79" y2="311.1" stroke-width="1.8"/>
<line x1="1756.79" y1="2.7" x2="1756.79" y2="10.7" stroke-width="1.8"/>
<line x1="1783.91" y1="318.5" x2="1783.91" y2="307.1" stroke-width="2.2"/>
<line x1="1783.91" y1="2.7" x2="1783.91" y2="14.7" stroke-width="2.2"/>
<line x1="1811.02" y1="318.5" x2="1811.02" y2="311.1" stroke-width="1.8"/>
<line x1="1811.02" y1="2.7" x2="1811.02" y2="10.7" stroke-width="1.8"/>
<line x1="1838.14" y1="318.5" x2="1838.14" y2="311.1" stroke-width="1.8"/>
<line x1="1838.14" y1="2.7" x2="1838.14" y2="10.7" stroke-width="1.8"/>
<line x1="1865.25" y1="318.5" x2="1865.25" y2="311.1" stroke-width="1.8"/>
<line x1="1865.25" y1="2.7" x2="1865.25" y2="10.7" stroke-width="1.8"/>
<line x1="1892.37" y1="318.5" x2="1892.37" y2="307.1" stroke-width="2.2"/>
<line x1="1892.37" y1="2.7" x2="1892.37" y2="14.7" stroke-width="2.2"/>
<line x1="1450.4" y1="302.86" x2="1457.8" y2="302.86" stroke-width="1.8"/>
<line x1="1900.5" y1="302.86" x2="1893.1" y2="302.86" stroke-width="1.8"/>
<line x1="1450.4" y1="290.73" x2="1457.8" y2="290.73" stroke-width="1.8"/>
<line x1="1900.5" y1="290.73" x2="1893.1" y2="290.73" stroke-width="1.8"/>
<line x1="1450.4" y1="280.82" x2="1457.8" y2="280.82" stroke-width="1.8"/>
<line x1="1900.5" y1="280.82" x2="1893.1" y2="280.82" stroke-width="1.8"/>
<line x1="1450.4" y1="272.44" x2="1457.8" y2="272.44" stroke-width="1.8"/>
<line x1="1900.5" y1="272.44" x2="1893.1" y2="272.44" stroke-width="1.8"/>
<line x1="1450.4" y1="265.18" x2="1457.8" y2="265.18" stroke-width="1.8"/>
<line x1="1900.5" y1="265.18" x2="1893.1" y2="265.18" stroke-width="1.8"/>
<line x1="1450.4" y1="258.78" x2="1457.8" y2="258.78" stroke-width="1.8"/>
<line x1="1900.5" y1="258.78" x2="1893.1" y2="258.78" stroke-width="1.8"/>
<line x1="1450.4" y1="253.05" x2="1461.8" y2="253.05" stroke-width="2.2"/>
<line x1="1900.5" y1="253.05" x2="1889.1" y2="253.05" stroke-width="2.2"/>
<line x1="1450.4" y1="215.37" x2="1457.8" y2="215.37" stroke-width="1.8"/>
<line x1="1900.5" y1="215.37" x2="1893.1" y2="215.37" stroke-width="1.8"/>
<line x1="1450.4" y1="193.33" x2="1457.8" y2="193.33" stroke-width="1.8"/>
<line x1="1900.5" y1="193.33" x2="1893.1" y2="193.33" stroke-width="1.8"/>
<line x1="1450.4" y1="177.69" x2="1457.8" y2="177.69" stroke-width="1.8"/>
<line x1="1900.5" y1="177.69" x2="1893.1" y2="177.69" stroke-width="1.8"/>
<line x1="1450.4" y1="165.56" x2="1457.8" y2="165.56" stroke-width="1.8"/>
<line x1="1900.5" y1="165.56" x2="1893.1" y2="165.56" stroke-width="1.8"/>
<line x1="1450.4" y1="155.64" x2="1457.8" y2="155.64" stroke-width="1.8"/>
<line x1="1900.5" y1="155.64" x2="1893.1" y2="155.64" stroke-width="1.8"/>
<line x1="1450.4" y1="147.26" x2="1457.8" y2="147.26" stroke-width="1.8"/>
<line x1="1900.5" y1="147.26" x2="1893.1" y2="147.26" stroke-width="1.8"/>
<line x1="1450.4" y1="140.01" x2="1457.8" y2="140.01" stroke-width="1.8"/>
<line x1="1900.5" y1="140.01" x2="1893.1" y2="140.01" stroke-width="1.8"/>
<line x1="1450.4" y1="133.6" x2="1457.8" y2="133.6" stroke-width="1.8"/>
<line x1="1900.5" y1="133.6" x2="1893.1" y2="133.6" stroke-width="1.8"/>
<line x1="1450.4" y1="127.87" x2="1461.8" y2="127.87" stroke-width="2.2"/>
<line x1="1900.5" y1="127.87" x2="1889.1" y2="127.87" stroke-width="2.2"/>
<line x1="1450.4" y1="90.19" x2="1457.8" y2="90.19" stroke-width="1.8"/>
<line x1="1900.5" y1="90.19" x2="1893.1" y2="90.19" stroke-width="1.8"/>
<line x1="1450.4" y1="68.15" x2="1457.8" y2="68.15" stroke-width="1.8"/>
<line x1="1900.5" y1="68.15" x2="1893.1" y2="68.15" stroke-width="1.8"/>
<line x1="1450.4" y1="52.51" x2="1457.8" y2="52.51" stroke-width="1.8"/>
<line x1="1900.5" y1="52.51" x2="1893.1" y2="52.51" stroke-width="1.8"/>
<line x1="1450.4" y1="40.38" x2="1457.8" y2="40.38" stroke-width="1.8"/>
<line x1="1900.5" y1="40.38" x2="1893.1" y2="40.38" stroke-width="1.8"/>
<line x1="1450.4" y1="30.47" x2="1457.8" y2="30.47" stroke-width="1.8"/>
<line x1="1900.5" y1="30.47" x2="1893.1" y2="30.47" stroke-width="1.8"/>
<line x1="1450.4" y1="22.09" x2="1457.8" y2="22.09" stroke-width="1.8"/>
<line x1="1900.5" y1="22.09" x2="1893.1" y2="22.09" stroke-width="1.8"/>
<line x1="1450.4" y1="14.83" x2="1457.8" y2="14.83" stroke-width="1.8"/>
<line x1="1900.5" y1="14.83" x2="1893.1" y2="14.83" stroke-width="1.8"/>
<line x1="1450.4" y1="8.43" x2="1457.8" y2="8.43" stroke-width="1.8"/>
<line x1="1900.5" y1="8.43" x2="1893.1" y2="8.43" stroke-width="1.8"/>
</g>
<g clip-path="url(#clip-c)">
<path d="M1458.1,112.75L1472.5,113.5L1490,110.6L1502.5,106L1512.5,104L1525,105.5L1535,105.5L1545,101.75L1556.25,98.5L1567.5,101L1580,103.5L1590,101.75L1599.5,98.2L1605,108L1610.2,102.6L1615,110.5L1621.25,121.75L1627.5,126.75L1631.25,148L1636.25,158L1642.5,173L1647.5,186.75L1655,196L1660,204.75L1665,209.75L1670,212.25L1675,221L1680.5,227.25L1686.25,224.75L1697,209.75L1702.5,218.5L1708,227.25L1713,226L1718.75,231L1724.25,228L1728.2,211L1731.8,196L1740.8,158L1745,134.25L1750.75,128L1756.25,109.25L1762,115L1767.5,111.75L1773,106L1783.75,104.25L1795,107.5L1805,107.5L1821.25,100.5L1827.5,98.1L1837.5,99.75L1848.75,103.1L1860,105L1875,106.9L1892.5,109.75" fill="none" stroke="#474747" stroke-width="2.6" stroke-linejoin="round"/>
<g stroke="#d9524b" stroke-width="3.0">
<line x1="1482.48" y1="91.9" x2="1482.48" y2="141.1"/>
<line x1="1523.8" y1="58.7" x2="1523.8" y2="146.6"/>
<line x1="1578.9" y1="91.9" x2="1578.9" y2="139.1"/>
<line x1="1606.44" y1="101.45" x2="1606.44" y2="132.85"/>
<line x1="1826.83" y1="90.4" x2="1826.83" y2="121.7"/>
<line x1="1868.15" y1="139.7" x2="1868.15" y2="156.1"/>
<line x1="1881.92" y1="120.2" x2="1881.92" y2="147.85"/>
<line x1="1895.7" y1="106.45" x2="1895.7" y2="130.35"/>
</g>
<g fill="#fff" stroke="#d9524b" stroke-width="2.3">
<circle cx="1454.93" cy="138.4" r="5.85"/>
<circle cx="1468.7" cy="125.4" r="5.85"/>
<circle cx="1482.48" cy="110.65" r="5.85"/>
<circle cx="1496.25" cy="140.4" r="5.85"/>
<circle cx="1510.03" cy="137.9" r="5.85"/>
<circle cx="1523.8" cy="86.5" r="5.85"/>
<circle cx="1551.35" cy="135.9" r="5.85"/>
<circle cx="1565.12" cy="135.9" r="5.85"/>
<circle cx="1578.9" cy="110.4" r="5.85"/>
<circle cx="1592.67" cy="144.65" r="5.85"/>
<circle cx="1606.44" cy="115.15" r="5.85"/>
<circle cx="1620.22" cy="176.65" r="5.85"/>
<circle cx="1633.99" cy="184.65" r="5.85"/>
<circle cx="1647.77" cy="226.4" r="5.85"/>
<circle cx="1661.54" cy="228.15" r="5.85"/>
<circle cx="1675.31" cy="240.15" r="5.85"/>
<circle cx="1689.09" cy="256.9" r="5.85"/>
<circle cx="1702.86" cy="258.9" r="5.85"/>
<circle cx="1716.64" cy="255.9" r="5.85"/>
<circle cx="1730.41" cy="253.4" r="5.85"/>
<circle cx="1744.18" cy="238.9" r="5.85"/>
<circle cx="1757.96" cy="230.15" r="5.85"/>
<circle cx="1771.73" cy="201.4" r="5.85"/>
<circle cx="1785.51" cy="186.4" r="5.85"/>
<circle cx="1799.28" cy="177.15" r="5.85"/>
<circle cx="1813.05" cy="116.4" r="5.85"/>
<circle cx="1826.83" cy="103.9" r="5.85"/>
<circle cx="1840.6" cy="152.9" r="5.85"/>
<circle cx="1854.38" cy="141.4" r="5.85"/>
<circle cx="1868.15" cy="147.65" r="5.85"/>
<circle cx="1881.92" cy="133.4" r="5.85"/>
<circle cx="1895.7" cy="117.9" r="5.85"/>
</g>
</g>
<g stroke="#000">
</g>
<rect x="1450.4" y="2.7" width="450.1" height="315.8" fill="none" stroke="#000" stroke-width="2.3"/>
<text transform="scale(0.890,1)"><tspan x="1619.18 1631.01" y="347.95" font-size="30.5" class="t">-8</tspan></text>
<text transform="scale(0.890,1)"><tspan x="1745.88 1757.78" y="347.95" font-size="30.5" class="t">-4</tspan></text>
<text transform="translate(1670.78,347.95) scale(0.890,1)" font-size="30.5" class="t">0</text>
<text transform="translate(1776.44,347.95) scale(0.890,1)" font-size="30.5" class="t">4</text>
<text transform="translate(1884.63,347.95) scale(0.890,1)" font-size="30.5" class="t">8</text>
<text transform="translate(1413.54,263.15) scale(0.890,1)" font-size="30.5" class="t">10</text>
<text transform="translate(1398.4,137.97) scale(0.890,1)" font-size="30.5" class="t">100</text>
<text transform="translate(1905.96,263.15) scale(0.890,1)" font-size="30.5" class="t" color="#d9524b">10</text>
<text transform="translate(1905.96,137.97) scale(0.890,1)" font-size="30.5" class="t" color="#d9524b">100</text>
<text transform="scale(0.970,1)"><tspan x="1693.38" y="381.7" font-size="30.4" class="t" font-style="italic">E</tspan><tspan x="1712.33 1717.14 1727.61" y="387.5" font-size="17" class="t" font-style="italic">inj</tspan><tspan x="1734.41" y="386.19" font-size="37.1" font-family="'DejaVu Sans', sans-serif" font-style="italic" stroke="#fff" stroke-width="0.55">/</tspan><tspan x="1750.29" y="381.9" font-size="28.2" class="t" font-style="italic">t</tspan></text>
<text transform="scale(0.900,1)"><tspan x="1554.83" y="24.9" font-size="38.6" font-weight="bold">(</tspan><tspan x="1570.15" y="25" font-size="30" font-weight="bold">c</tspan><tspan x="1590" y="24.9" font-size="38.6" font-weight="bold">)</tspan></text>
<text transform="rotate(-90) scale(0.900,1)"><tspan x="-198.49" y="1374.6" font-size="34.92" class="u" font-family="'DejaVu Sans', sans-serif" font-style="italic">τ</tspan><tspan x="-175.68" y="1380.3" font-size="26.27">0</tspan><tspan x="-156.38" y="1373.6" font-size="33.5" class="w">(</tspan><tspan x="-141.82 -117.42" y="1373.4" font-size="28.1" class="t">ms</tspan><tspan x="-102.31" y="1373.6" font-size="33.5" class="w">)</tspan></text>
<text transform="rotate(-90) scale(0.900,1)" color="#d9524b"><tspan x="-229.82" y="1988.65" font-size="34.92" class="u" font-family="'DejaVu Sans', sans-serif" font-style="italic">τ</tspan><tspan x="-206.66 -191.08 -176.29 -176.99 -160.51 -145.15" y="1993.95" font-size="25.6">0, exp</tspan><tspan x="-125.1" y="1992.95" font-size="33.5" class="w">(</tspan><tspan x="-110.7 -86.09" y="1992.35" font-size="28.1" class="t">ms</tspan><tspan x="-71.26" y="1992.95" font-size="33.5" class="w">)</tspan></text>
</g>
</svg></body></html>
